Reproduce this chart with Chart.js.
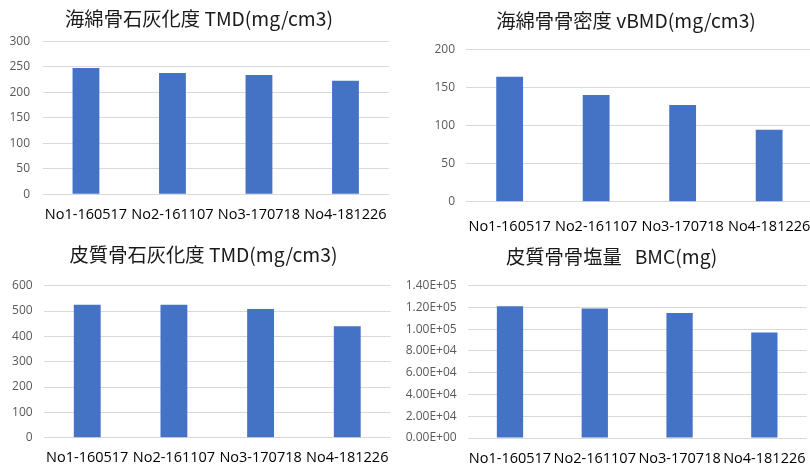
<!DOCTYPE html>
<html>
<head>
<meta charset="utf-8">
<script src="https://cdn.jsdelivr.net/npm/chart.js@4/dist/chart.umd.min.js"></script>
<style>
  html, body { margin: 0; padding: 0; background: #fff; overflow: hidden; width: 810px; height: 470px; }
  .box { position: absolute; }
</style>
</head>
<body>
<div class="box" id="b1" style="left:0px;top:0px;width:400px;height:235px;"><canvas id="c1"></canvas></div>
<div class="box" id="b2" style="left:405px;top:0px;width:442px;height:235px;"><canvas id="c2"></canvas></div>
<div class="box" id="b3" style="left:0px;top:235px;width:407px;height:235px;"><canvas id="c3"></canvas></div>
<div class="box" id="b4" style="left:405px;top:235px;width:414px;height:235px;"><canvas id="c4"></canvas></div>
<script>
// ---- data ----
const categories = ['No1-160517', 'No2-161107', 'No3-170718', 'No4-181226'];

const spongyTmdTitle = '海綿骨石灰化度 TMD(mg/cm3)';
const spongyTmd = [248, 238, 234, 223];
const spongyTmdTicks = { max: 300, step: 50 };

const spongyBmdTitle = '海綿骨骨密度 vBMD(mg/cm3)';
const spongyBmd = [164, 140, 127, 94.5];
const spongyBmdTicks = { max: 200, step: 50 };

const corticalTmdTitle = '皮質骨石灰化度 TMD(mg/cm3)';
const corticalTmd = [525, 525, 508, 440];
const corticalTmdTicks = { max: 600, step: 100 };

const corticalBmcTitle = '皮質骨骨塩量   BMC(mg)';
const corticalBmc = [121000, 119000, 115000, 97000];
const corticalBmcTicks = { max: 140000, step: 20000 };

// ---- drawing ----
const BAR = '#4472C4';
const GRID = '#D9D9D9';
const TITLE_FS = 19.3;
const XFS = 14.5;

function sci(v) {
  const s = Number(v).toExponential(2).toUpperCase(); // e.g. 1.40E+5
  return s.replace(/E([+-])(\d)$/, 'E$10$2');
}

// recentre the title block horizontally around a given x
const titleCenter = {
  id: 'titleCenter',
  afterLayout(chart, args, opts) {
    const tb = chart.titleBlock;
    if (!tb || opts.cx == null) return;
    const half = Math.max(opts.cx, chart.width - opts.cx);
    tb.left = opts.cx - half;
    tb.right = opts.cx + half;
    tb.width = tb.right - tb.left;
  }
};

function makeChart(id, W, H, L, title, data, ticks, fmt) {
  // L: layout numbers relative to canvas
  const titleTop = L.titleCY - TITLE_FS * 0.6;
  const titleBottom = L.y0 - (L.titleCY + TITLE_FS * 0.6);
  const xPad = L.xLabelCY - L.y1 - XFS * 0.6;
  const canvas = document.getElementById(id);
  canvas.width = W; canvas.height = H;
  canvas.style.width = W + 'px'; canvas.style.height = H + 'px';
  return new Chart(canvas, {
    type: 'bar',
    plugins: [titleCenter],
    data: {
      labels: categories,
      datasets: [{ data: data, backgroundColor: BAR, borderWidth: 0,
                   categoryPercentage: 1.0, barPercentage: 0.31 }]
    },
    options: {
      responsive: false,
      animation: false,
      devicePixelRatio: 1,
      layout: { padding: { left: 0, right: W - L.x1, top: 0, bottom: 0 } },
      plugins: {
        legend: { display: false },
        tooltip: { enabled: false },
        titleCenter: { cx: L.titleCX },
        title: {
          display: true, text: title, color: '#1a1a1a',
          font: { family: '"Noto Sans CJK JP", "Noto Sans", sans-serif', size: TITLE_FS, weight: 'normal', lineHeight: 1.2 },
          padding: { top: titleTop, bottom: titleBottom }
        }
      },
      scales: {
        x: {
          grid: { display: false, drawTicks: false },
          border: { display: false },
          ticks: { color: '#000', maxRotation: 0, autoSkip: false, padding: xPad,
                   font: { family: '"Open Sans", sans-serif', size: XFS, lineHeight: 1.2 } },
          afterFit: (s) => { s.height = H - L.y1; }
        },
        y: {
          min: 0, max: ticks.max,
          grid: { color: GRID, lineWidth: 1, drawTicks: false },
          border: { display: false },
          ticks: { stepSize: ticks.step, color: '#595959', padding: L.x0 - L.yLabelR,
                   font: { family: '"Open Sans", sans-serif', size: 12 },
                   callback: fmt || ((v) => v) },
          afterFit: (s) => { s.width = L.x0; }
        }
      }
    }
  });
}

makeChart('c1', 400, 235,
  { x0: 42.7, x1: 389.1, y0: 41.5, y1: 194.3, titleCX: 199, titleCY: 19, yLabelR: 30, xLabelCY: 215 },
  spongyTmdTitle, spongyTmd, spongyTmdTicks);

makeChart('c2', 442, 235,
  { x0: 61.4, x1: 407.4, y0: 49.3, y1: 201.7, titleCX: 221, titleCY: 21, yLabelR: 50, xLabelCY: 226.7 },
  spongyBmdTitle, spongyBmd, spongyBmdTicks);

makeChart('c3', 407, 235,
  { x0: 43.9, x1: 390.6, y0: 50.7, y1: 202.7, titleCX: 203.5, titleCY: 20, yLabelR: 32.7, xLabelCY: 223.3 },
  corticalTmdTitle, corticalTmd, corticalTmdTicks);

makeChart('c4', 414, 235,
  { x0: 62.6, x1: 404.6, y0: 50.7, y1: 203, titleCX: 206.7, titleCY: 21.7, yLabelR: 51.7, xLabelCY: 224 },
  corticalBmcTitle, corticalBmc, corticalBmcTicks, sci);
</script>
</body>
</html>
